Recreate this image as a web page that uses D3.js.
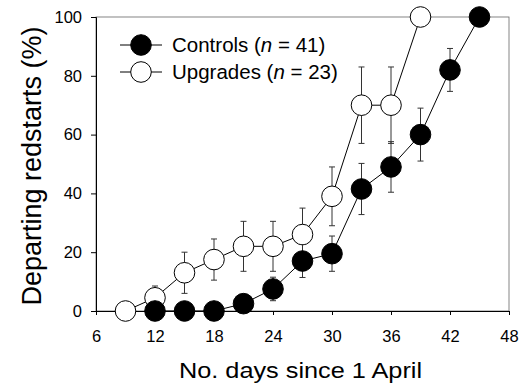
<!DOCTYPE html>
<html><head><meta charset="utf-8">
<script src="https://cdn.jsdelivr.net/npm/d3@7"></script>
<style>body{margin:0;background:#fff}svg{display:block;font-family:"Liberation Sans",Arial,sans-serif}</style>
</head><body>
<script>
const xTicks = [6,12,18,24,30,36,42,48];
const yTicks = [0,20,40,60,80,100];
const controlsX = [12,15,18,21,24,27,30,33,36,39,42,45];
const controlsY = [0,0,0,2.5,7.5,17,19.5,41.5,49,60,82,100];
const controlsErr = [0,0,0,0,4,5.6,6,8.7,8.6,9,7.3,0];
const upgradesX = [9,12,15,18,21,24,27,30,33,36,39];
const upgradesY = [0,4.5,13,17.5,22,22,26,39,70,70,100];
const upgradesErr = [0,4,7,7,8.5,8.5,9,10,13,13,0];

const W=531,H=385;
const m={l:96,r:22,t:17,b:74};
const svg=d3.select("body").append("svg").attr("width",W).attr("height",H);
const x=d3.scaleLinear().domain([6,48]).range([m.l,W-m.r]);
const y=d3.scaleLinear().domain([0,100]).range([H-m.b,m.t]);

svg.append("rect").attr("x",x(6)).attr("y",y(100)).attr("width",x(48)-x(6)).attr("height",y(0)-y(100))
  .attr("fill","none").attr("stroke","#666").attr("stroke-width",0.8);

const xa=svg.append("g").attr("transform",`translate(0,${y(0)})`)
  .call(d3.axisBottom(x).tickValues(xTicks).tickSize(4).tickPadding(15).tickFormat(d3.format("d")));
const ya=svg.append("g").attr("transform",`translate(${x(6)},0)`)
  .call(d3.axisLeft(y).tickValues(yTicks).tickSize(5).tickPadding(9));
[xa,ya].forEach(a=>{a.selectAll("text").attr("font-size",16.5).attr("fill","#000").style("font-family","Liberation Sans, Arial, sans-serif");
  a.select(".domain").attr("stroke","#000");a.selectAll("line").attr("stroke","#000");});

svg.append("text").attr("transform",`translate(${(x(6)+x(48))/2-2},378) scale(1.15,1)`).attr("text-anchor","middle")
  .attr("font-size",22).text("No. days since 1 April");
svg.append("text").attr("transform",`translate(41,${(y(0)+y(100))/2+2}) rotate(-90)`).attr("text-anchor","middle")
  .attr("font-size",27).text("Departing redstarts (%)");

function series(xs,ys,es,fill){
  const pts=xs.map((d,i)=>({x:d,y:ys[i],e:es[i]}));
  const g=svg.append("g");
  const eb=g.append("g").attr("stroke","#333").attr("stroke-width",1);
  pts.filter(p=>p.e>0).forEach(p=>{
    eb.append("line").attr("x1",x(p.x)).attr("x2",x(p.x)).attr("y1",y(p.y-p.e)).attr("y2",y(p.y+p.e));
    [p.y-p.e,p.y+p.e].forEach(v=>eb.append("line").attr("x1",x(p.x)-3).attr("x2",x(p.x)+3).attr("y1",y(v)).attr("y2",y(v)));
  });
  g.append("path").datum(pts).attr("fill","none").attr("stroke","#000").attr("stroke-width",1)
    .attr("d",d3.line().x(d=>x(d.x)).y(d=>y(d.y)));
  return {g,pts,fill};
}
const up=series(upgradesX,upgradesY,upgradesErr,"#fff");
const co=series(controlsX,controlsY,controlsErr,"#000");
[up,co].forEach(s=>{
  s.g.selectAll("circle").data(s.pts).join("circle").attr("cx",d=>x(d.x)).attr("cy",d=>y(d.y)).attr("r",10.3)
    .attr("fill",s.fill).attr("stroke","#000").attr("stroke-width",1);
});

const leg=[{label:"Controls",n:"41",fill:"#000",yy:45},{label:"Upgrades",n:"23",fill:"#fff",yy:72}];
leg.forEach(l=>{
  svg.append("line").attr("x1",120).attr("x2",162).attr("y1",l.yy).attr("y2",l.yy).attr("stroke","#000");
  svg.append("circle").attr("cx",141).attr("cy",l.yy).attr("r",10.3).attr("fill",l.fill).attr("stroke","#000");
  const t=svg.append("text").attr("x",172).attr("y",l.yy+7).attr("font-size",20.5);
  t.append("tspan").text(l.label+" (");
  t.append("tspan").attr("font-style","italic").text("n");
  t.append("tspan").text(" = "+l.n+")");
});
</script>
</body></html>
